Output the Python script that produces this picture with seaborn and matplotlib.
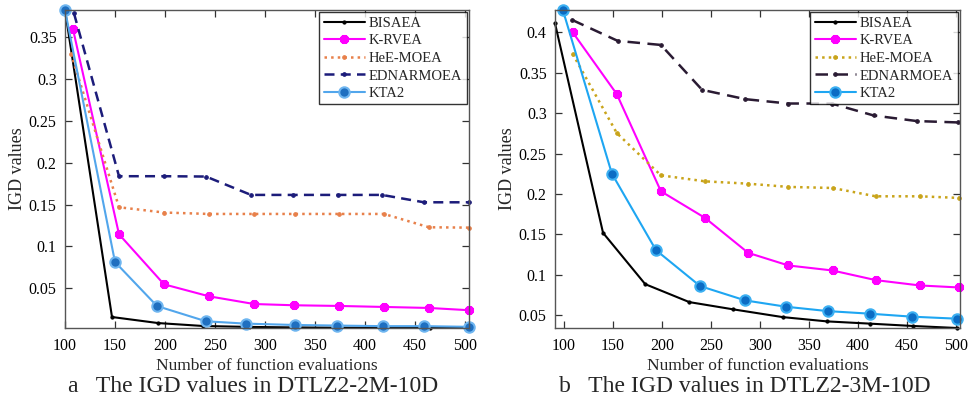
import numpy as np
import pandas as pd
import seaborn as sns
import matplotlib
matplotlib.use("Agg")
import matplotlib.pyplot as plt
from matplotlib.ticker import FixedLocator, FuncFormatter

# ---------------- data: panel a (DTLZ2-2M-10D) ----------------
a_bisaea_x = [100, 147, 193, 238, 284, 329, 375, 420, 465, 504]
a_bisaea_y = [0.382, 0.0159, 0.0087, 0.0052, 0.0041, 0.0035, 0.0032, 0.0030, 0.0029, 0.0028]
a_krvea_x = [108, 154, 199, 244, 289, 329, 374, 419, 464, 504]
a_krvea_y = [0.359, 0.1146, 0.0549, 0.0406, 0.0314, 0.0299, 0.0291, 0.0279, 0.0267, 0.0240]
a_hee_x = [106, 154, 199, 244, 289, 330, 374, 419, 464, 504]
a_hee_y = [0.330, 0.1468, 0.1405, 0.1388, 0.1388, 0.1388, 0.1388, 0.1388, 0.1229, 0.1225]
a_ednar_x = [109, 154, 199, 241, 286, 328, 373, 417, 459, 504]
a_ednar_y = [0.378, 0.1838, 0.1838, 0.1834, 0.1615, 0.1615, 0.1615, 0.1615, 0.1527, 0.1527]
a_kta2_x = [100, 150, 192, 241, 281, 330, 372, 418, 459, 504]
a_kta2_y = [0.382, 0.0815, 0.0290, 0.0108, 0.0080, 0.0064, 0.0057, 0.0050, 0.0050, 0.0042]

# ---------------- data: panel b (DTLZ2-3M-10D) ----------------
b_bisaea_x = [91, 140, 183, 228, 273, 323, 368, 412, 456, 501]
b_bisaea_y = [0.411, 0.152, 0.0886, 0.0664, 0.0574, 0.0479, 0.0426, 0.0398, 0.0369, 0.0344]
b_krvea_x = [109, 154, 199, 244, 288, 329, 374, 418, 463, 503]
b_krvea_y = [0.400, 0.3235, 0.2034, 0.1705, 0.1273, 0.1117, 0.1055, 0.0936, 0.0870, 0.0845]
b_hee_x = [109, 154, 199, 244, 288, 329, 374, 418, 463, 503]
b_hee_y = [0.3732, 0.2754, 0.2231, 0.2157, 0.2128, 0.2088, 0.2075, 0.1972, 0.1972, 0.1952]
b_ednar_x = [108.5, 155, 199, 241, 285, 328.5, 373, 416, 460, 502]
b_ednar_y = [0.4152, 0.3893, 0.3843, 0.3288, 0.3173, 0.3119, 0.3119, 0.2971, 0.2902, 0.2885]
b_kta2_x = [99, 149, 194, 239, 285, 326.5, 369, 412, 455, 501]
b_kta2_y = [0.4275, 0.2252, 0.1306, 0.0862, 0.0685, 0.0607, 0.0553, 0.0521, 0.0484, 0.0459]

algorithms = ["BISAEA", "K-RVEA", "HeE-MOEA", "EDNARMOEA", "KTA2"]
x_ticks = [100, 150, 200, 250, 300, 350, 400, 450, 500]
a_y_ticks = [0.05, 0.1, 0.15, 0.2, 0.25, 0.3, 0.35]
b_y_ticks = [0.05, 0.1, 0.15, 0.2, 0.25, 0.3, 0.35, 0.4]
captions = ["a   The IGD values in DTLZ2-2M-10D", "b   The IGD values in DTLZ2-3M-10D"]
xlabel = "Number of function evaluations"
ylabel = "IGD values"

sns.set_theme(style="white")
plt.rcParams["font.family"] = ["Liberation Serif", "DejaVu Serif"]

fig = plt.figure(figsize=(9.8, 4.01), dpi=100)
ax_a = fig.add_axes([65 / 980, 73 / 401, 404 / 980, 318 / 401])
ax_b = fig.add_axes([555 / 980, 73 / 401, 405 / 980, 318 / 401])

styles_a = [
    dict(color="black", ls="-", lw=1.5, marker="o", ms=2.3, mfc="black", mec="black"),
    dict(color="#ff00ff", ls="-", lw=1.5, marker=(8, 2, 0), ms=6.5, mew=2.2, mec="#ff00ff"),
    dict(color="#e8804a", ls=":", lw=1.8, marker="o", ms=2.6, mfc="#e8804a", mec="#e8804a"),
    dict(color="#1c1c7a", ls=(0, (4, 2.5)), lw=1.8, marker="o", ms=2.6, mfc="#1c1c7a", mec="#1c1c7a"),
    dict(color="#52a6ec", ls="-", lw=1.5, marker="o", ms=7.5, mfc="#1f6fc0", mec="#6fb6f0", mew=1.5),
]
styles_b = [
    dict(color="black", ls="-", lw=1.5, marker="o", ms=2.3, mfc="black", mec="black"),
    dict(color="#ff00ff", ls="-", lw=1.5, marker=(8, 2, 0), ms=6.5, mew=2.2, mec="#ff00ff"),
    dict(color="#c9a41a", ls=":", lw=1.8, marker="o", ms=2.6, mfc="#c9a41a", mec="#c9a41a"),
    dict(color="#2a1b33", ls=(0, (5, 3)), lw=1.8, marker="o", ms=2.6, mfc="#2a1b33", mec="#2a1b33"),
    dict(color="#1ea6f2", ls="-", lw=1.5, marker="o", ms=7.5, mfc="#0b6cc4", mec="#3cb0f2", mew=1.5),
]

panel_data = [
    (ax_a, [(a_bisaea_x, a_bisaea_y), (a_krvea_x, a_krvea_y), (a_hee_x, a_hee_y),
            (a_ednar_x, a_ednar_y), (a_kta2_x, a_kta2_y)], styles_a, (100, 504), (0.0028, 0.382), a_y_ticks),
    (ax_b, [(b_bisaea_x, b_bisaea_y), (b_krvea_x, b_krvea_y), (b_hee_x, b_hee_y),
            (b_ednar_x, b_ednar_y), (b_kta2_x, b_kta2_y)], styles_b, (91, 504), (0.0344, 0.4275), b_y_ticks),
]

def fmt(v, pos):
    return ("%.2f" % v).rstrip("0").rstrip(".")

for i, (ax, series, styles, xl, yl, yt) in enumerate(panel_data):
    for name, (xs, ys), st in zip(algorithms, series, styles):
        df = pd.DataFrame({"x": xs, "y": ys})
        sns.lineplot(data=df, x="x", y="y", ax=ax, sort=False, label=name,
                     estimator=None, clip_on=False, **st)
    ax.set_xlim(*xl)
    ax.set_ylim(*yl)
    ax.xaxis.set_major_locator(FixedLocator(x_ticks))
    ax.yaxis.set_major_locator(FixedLocator(yt))
    ax.yaxis.set_major_formatter(FuncFormatter(fmt))
    ax.tick_params(direction="in", length=5, width=0.9, colors="#333333",
                   labelcolor="black", labelsize=11.5, top=True, right=True,
                   bottom=True, left=True)
    ax.tick_params(axis="y", pad=6)
    ax.tick_params(axis="x", pad=7)
    for sp in ax.spines.values():
        sp.set_color("#555555")
        sp.set_linewidth(1.0)
        sp.set_visible(True)
    ax.set_xlabel(xlabel, fontsize=12.5, labelpad=3)
    ax.set_ylabel(ylabel, fontsize=13, labelpad=2)
    leg = ax.legend(loc="upper right", fontsize=10.5, frameon=True, fancybox=False,
                    handlelength=2.8, handletextpad=0.3, borderpad=0.3,
                    labelspacing=0.3, borderaxespad=0.15)
    leg.get_frame().set_edgecolor("black")
    leg.get_frame().set_linewidth(1.0)

fig.text(253 / 980, 15 / 401, captions[0], ha="center", va="center", fontsize=17)
fig.text(745 / 980, 15 / 401, captions[1], ha="center", va="center", fontsize=17)

fig.savefig("out.png", dpi=100)
